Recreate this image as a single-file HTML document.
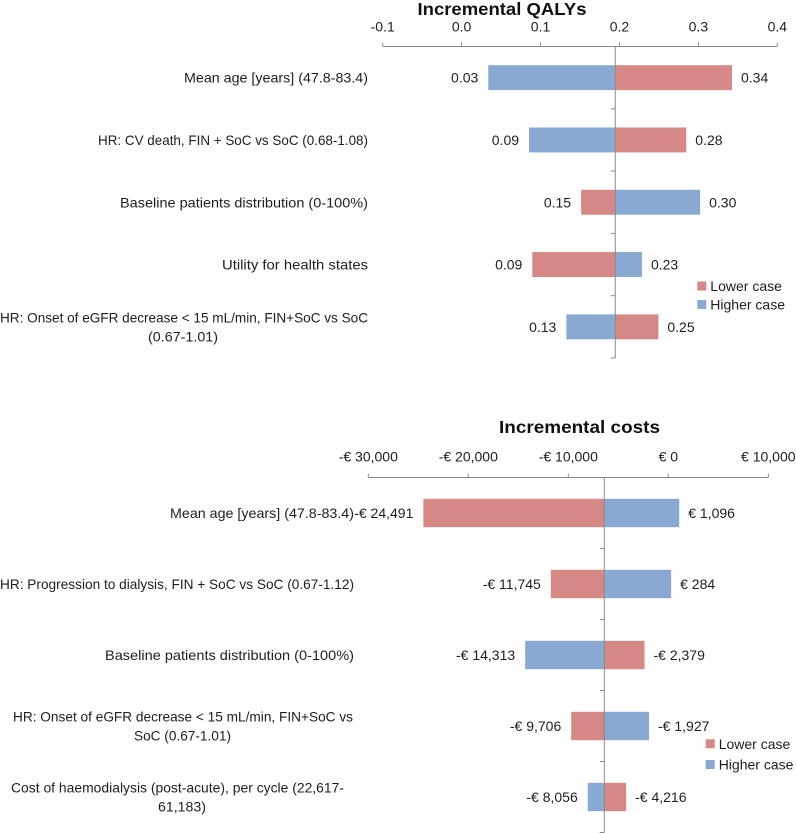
<!DOCTYPE html>
<html>
<head>
<meta charset="utf-8">
<title>Tornado charts</title>
<style>
html,body{margin:0;padding:0;background:#fff;width:796px;height:833px;overflow:hidden}
svg{display:block}
text{font-family:"Liberation Sans",sans-serif;fill:#1e1e1e;font-size:14px}
.title{font-weight:bold;font-size:17.5px;fill:#111}
</style>
</head>
<body>
<svg id="root" width="796" height="833" viewBox="0 0 796 833"></svg>
<script>
var qalyCategories = [
  ["Mean age [years] (47.8-83.4)"],
  ["HR: CV death, FIN + SoC vs SoC (0.68-1.08)"],
  ["Baseline patients distribution (0-100%)"],
  ["Utility for health states"],
  ["HR: Onset of eGFR decrease < 15 mL/min, FIN+SoC vs SoC", "(0.67-1.01)"]
];
var qalyLower = [0.3426, 0.2847, 0.1514, 0.0896, 0.2493];
var qalyHigher = [0.0338, 0.0854, 0.3022, 0.2285, 0.1327];
var qalyTickValues = [-0.1, 0, 0.1, 0.2, 0.3, 0.4];
var qalyTickLabels = ["-0.1", "0.0", "0.1", "0.2", "0.3", "0.4"];
var qalyBase = 0.1947;

var costCategories = [
  ["Mean age [years] (47.8-83.4)"],
  ["HR: Progression to dialysis, FIN + SoC vs SoC (0.67-1.12)"],
  ["Baseline patients distribution (0-100%)"],
  ["HR: Onset of eGFR decrease < 15 mL/min, FIN+SoC vs", "SoC (0.67-1.01)"],
  ["Cost of haemodialysis (post-acute), per cycle (22,617-", "61,183)"]
];
var costLower = [-24491, -11745, -2379, -9706, -4216];
var costHigher = [1096, 284, -14313, -1927, -8056];
var costTickValues = [-30000, -20000, -10000, 0, 10000];
var costTickLabels = ["-€ 30,000", "-€ 20,000", "-€ 10,000", "€ 0", "€ 10,000"];
var costBase = -6400;

var legendLabels = ["Lower case", "Higher case"];

var RED = "#d58886", BLUE = "#89a9d3", AXIS = "#8a8a8a";
var NS = "http://www.w3.org/2000/svg";
var root = document.getElementById("root");

function add(tag, attrs, txt) {
  var el = document.createElementNS(NS, tag);
  for (var k in attrs) el.setAttribute(k, attrs[k]);
  if (txt !== undefined) el.textContent = txt;
  root.appendChild(el);
  return el;
}

function fmtQaly(v) { return v.toFixed(2); }
function fmtCost(v) {
  var s = Math.abs(v).toString().replace(/\B(?=(\d{3})+$)/g, ",");
  return (v < 0 ? "-€ " : "€ ") + s;
}

function drawChart(c) {
  var xScale = function (v) {
    return c.x0 + (v - c.dMin) / (c.dMax - c.dMin) * (c.x1 - c.x0);
  };
  var band = (c.yEnd - c.axisY) / c.categories.length;
  var bandMid = function (i) { return c.axisY + band * (i + 0.5); };
  var bx = xScale(c.base);
  var barH = band * 0.4;

  var title = add("text", {"class": "title", x: c.titleX, y: c.titleY, "text-anchor": "middle", textLength: c.titleW, lengthAdjust: "spacingAndGlyphs"}, c.title);
  
  

  var axis = add("line", {x1: c.x0, x2: c.x1, y1: c.axisY, y2: c.axisY, stroke: AXIS, "stroke-width": 1});
  
  

  c.tickValues.forEach(function (v, i) {
    var x = xScale(v);
    var t = add("line", {x1: x, x2: x, y1: c.axisY - 4, y2: c.axisY, stroke: AXIS, "stroke-width": 1});
    
    
    var lbl = add("text", {x: x, y: c.tickY, "text-anchor": "middle"}, c.tickLabels[i]);
    
    
  });

  function bar(i, v, color, name) {
    var xv = xScale(v);
    var r = add("rect", {x: Math.min(xv, bx), y: bandMid(i) - barH / 2, width: Math.abs(xv - bx), height: barH, fill: color});
    
    
    var right = xv >= bx;
    var lbl = add("text", {x: right ? xv + 9 : xv - 10, y: bandMid(i) + 5, "text-anchor": right ? "start" : "end"}, c.format(v));
    
    
  }

  c.categories.forEach(function (lines, i) {
    bar(i, c.lower[i], RED, 'bar-lower-case');
    bar(i, c.higher[i], BLUE, 'bar-higher-case');
    var w = c.labelWidths[i];
    if (lines.length === 1) {
      var s = add("text", {x: c.labelRight, y: bandMid(i) + 5, "text-anchor": "end", textLength: w[0], lengthAdjust: "spacingAndGlyphs"}, lines[0]);
      
      
    } else {
      var a = add("text", {x: c.wrapCenters[i][0], y: bandMid(i) - 4.6, "text-anchor": "middle", textLength: w[0], lengthAdjust: "spacingAndGlyphs"}, lines[0]);
      
      
      var b = add("text", {x: c.wrapCenters[i][1], y: bandMid(i) + 14.4, "text-anchor": "middle", textLength: w[1], lengthAdjust: "spacingAndGlyphs"}, lines[1]);
      
      
    }
  });

  for (var j = 1; j <= c.categories.length; j++) {
    var y = c.axisY + band * j;
    var m = add("line", {x1: bx - 4.5, x2: bx, y1: y, y2: y, stroke: AXIS, "stroke-width": 1});
    
    
  }
  var v = add("line", {x1: bx, x2: bx, y1: c.axisY, y2: c.yEnd, stroke: AXIS, "stroke-width": 1});
  
  

  legendLabels.forEach(function (name, i) {
    var ly = c.legendY + i * c.legendGap;
    var sw = add("rect", {x: c.legendX, y: ly, width: 9, height: 9, fill: i === 0 ? RED : BLUE});
    
    
    var tx = add("text", {x: c.legendX + 13, y: ly + 9.5}, name);
    
    
  });
}

drawChart({
  title: "Incremental QALYs", titleX: 502, titleY: 15, titleW: 169,
  categories: qalyCategories, lower: qalyLower, higher: qalyHigher,
  tickValues: qalyTickValues, tickLabels: qalyTickLabels, base: qalyBase,
  dMin: -0.1, dMax: 0.4, x0: 382.7, x1: 777.3, axisY: 46.5, yEnd: 358, tickY: 31.5,
  labelRight: 368,
  labelWidths: [[184], [270], [248], [146], [368, 70]],
  wrapCenters: [null, null, null, null, [184, 183]],
  format: fmtQaly,
  legendX: 697.3, legendY: 281.5, legendGap: 18.5
});

drawChart({
  title: "Incremental costs", titleX: 579.5, titleY: 433, titleW: 161,
  categories: costCategories, lower: costLower, higher: costHigher,
  tickValues: costTickValues, tickLabels: costTickLabels, base: costBase,
  dMin: -30000, dMax: 10000, x0: 368.3, x1: 768.3, axisY: 477.5, yEnd: 832.5, tickY: 461.5,
  labelRight: 354,
  labelWidths: [[184], [354], [249], [340, 97], [333, 48]],
  wrapCenters: [null, null, null, [183, 182.5], [177.5, 182]],
  format: fmtCost,
  legendX: 705.7, legendY: 739.3, legendGap: 20.7
});
</script>
</body>
</html>
